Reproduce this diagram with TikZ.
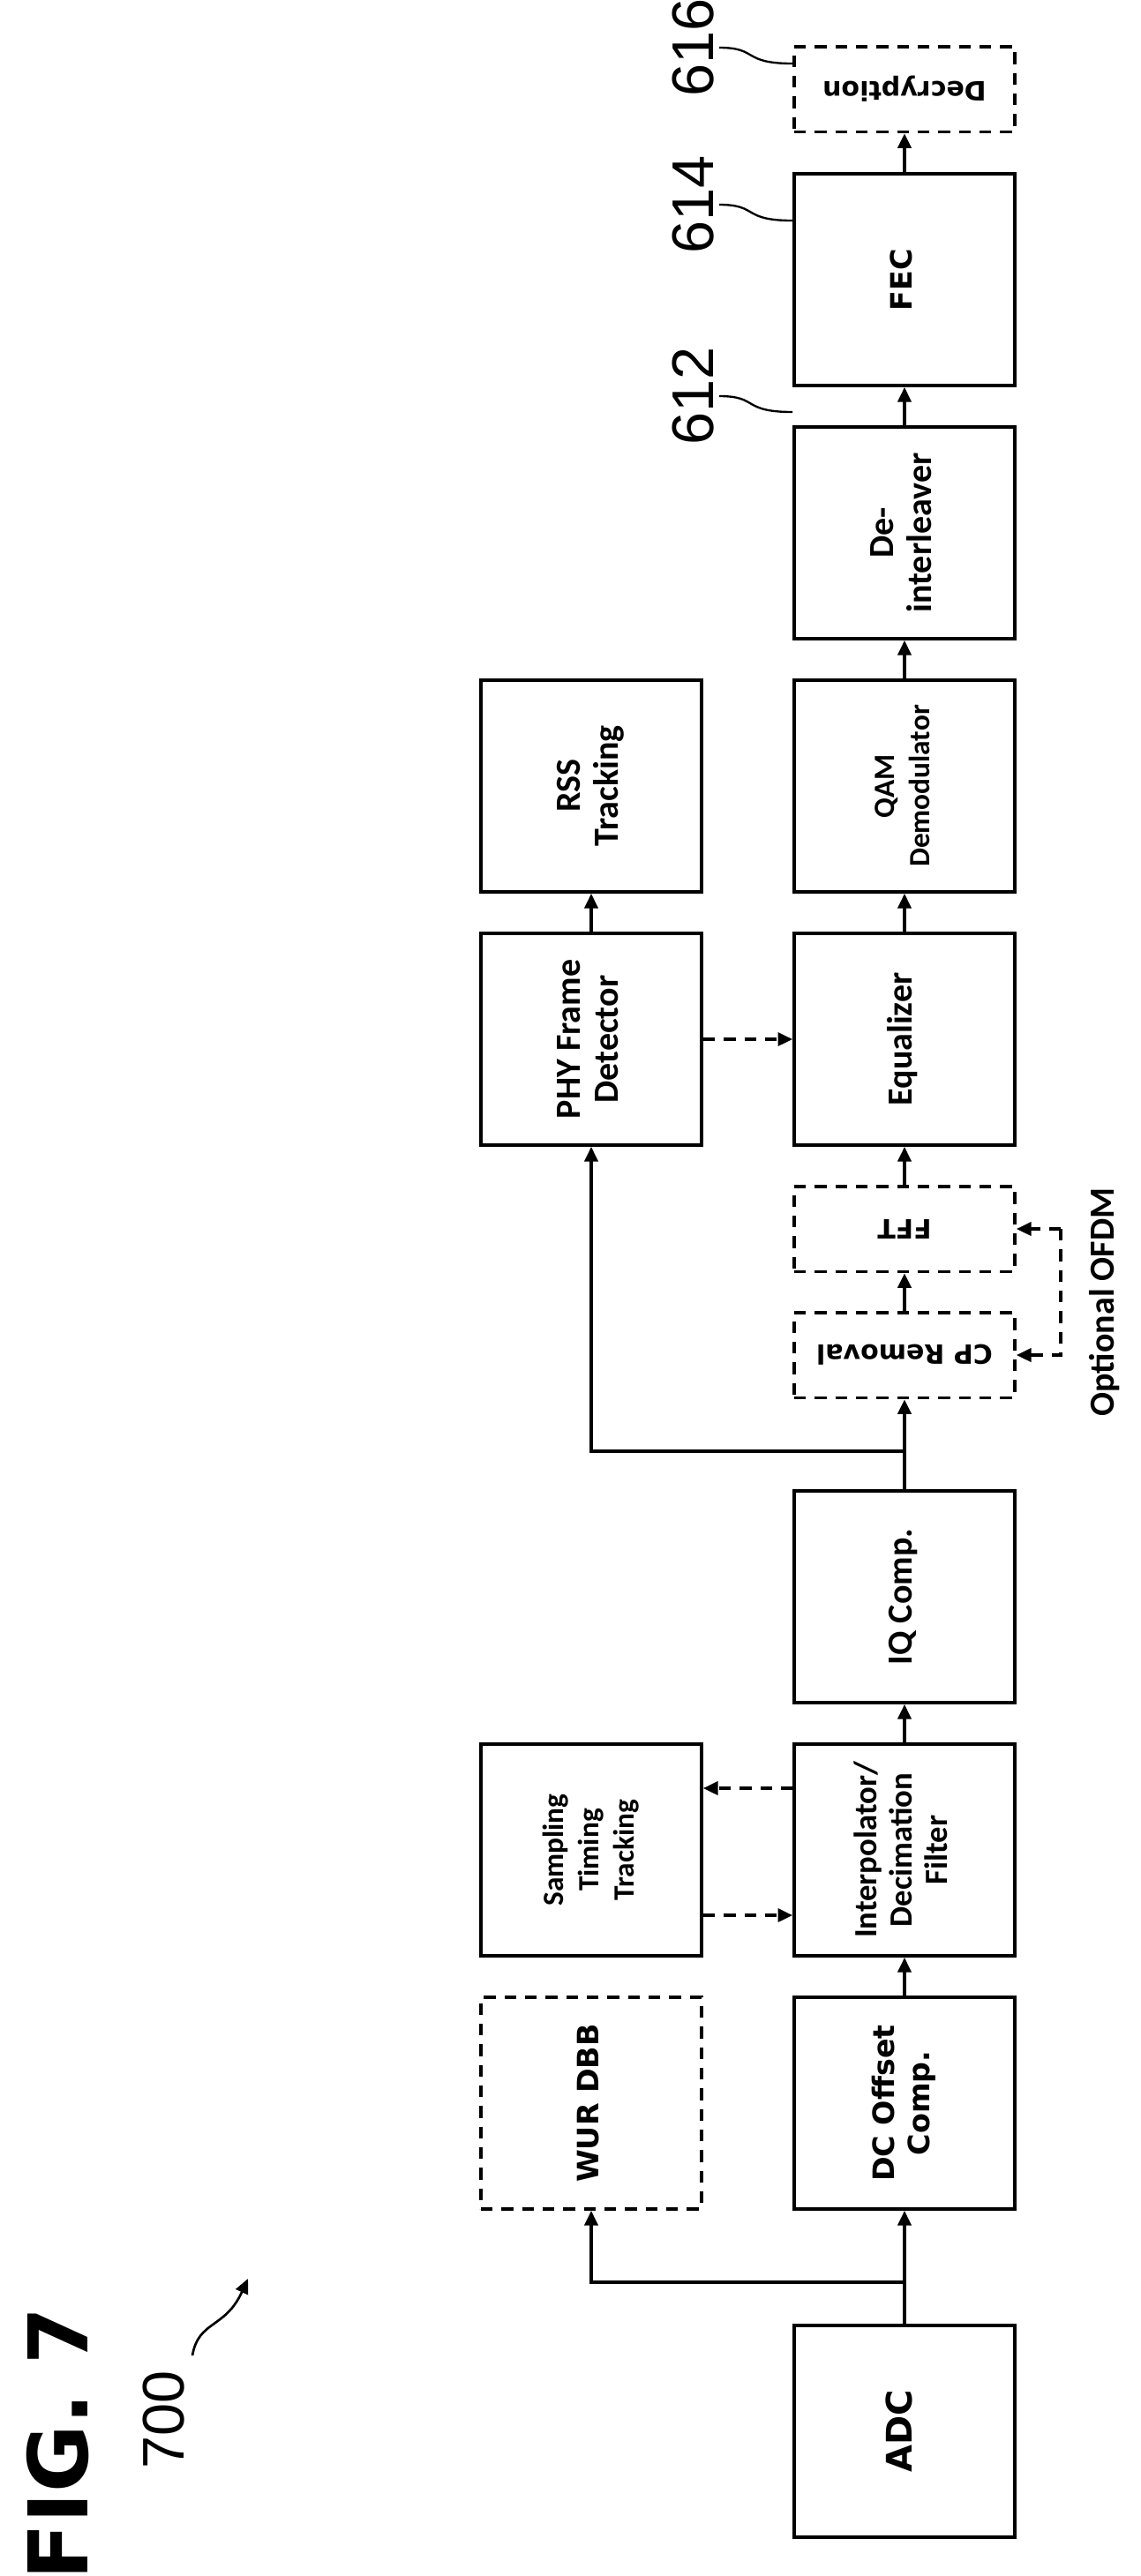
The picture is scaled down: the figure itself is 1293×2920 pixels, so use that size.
\documentclass[tikz,border=0pt]{standalone}
\usepackage{fontspec}
\setmainfont{Carlito}
\newfontfamily\vfont{DejaVu Sans}
\newfontfamily\nfont{Liberation Sans}
\usetikzlibrary{arrows.meta,calc}
\newcommand{\up}[1]{\rotatebox{90}{\begin{tabular}{@{}c@{}}#1\end{tabular}}}
\newcommand{\dn}[1]{\rotatebox{180}{#1}}

\begin{document}
\begin{tikzpicture}[x=0.3pt, y=-0.3pt, line width=1.1pt,
    block/.style={rectangle, draw, minimum width=75pt, minimum height=72pt, inner sep=0pt, font=\bfseries\fontsize{12}{13}\selectfont},
    small/.style={block, minimum height=29pt},
    opt/.style={dashed, dash pattern=on 4pt off 3pt},
    arr/.style={-{Triangle[length=5pt, width=4.5pt]}},
    refnum/.style={font=\nfont\fontsize{20}{20}\selectfont, rotate=90}]

    \useasboundingbox (0,0) rectangle (1293,2920);

    % main chain
    \node[block] (adc) at (1025,2756) {\vfont\up{ADC}};
    \node[block] (dc) at (1025,2384) {\vfont\fontsize{10}{12}\selectfont\up{DC Offset\\Comp.}};
    \node[block] (interp) at (1025,2097) {\fontsize{11}{12}\selectfont\up{Interpolator/\\Decimation\\Filter}};
    \node[block] (iq) at (1025,1810) {\up{IQ Comp.}};
    \node[small, opt] (cp) at (1025,1536) {\vfont\fontsize{9}{10}\selectfont\dn{CP Removal}};
    \node[small, opt] (fft) at (1025,1393) {\vfont\fontsize{9}{10}\selectfont\dn{FFT}};
    \node[block] (eq) at (1025,1178) {\up{Equalizer}};
    \node[block] (qam) at (1025,891) {\fontsize{10}{12}\selectfont\up{QAM\\Demodulator}};
    \node[block] (deint) at (1025,604) {\up{De-\\interleaver}};
    \node[block] (fec) at (1025,317) {\vfont\fontsize{10}{12}\selectfont\up{FEC}};
    \node[small, opt] (dec) at (1025,101) {\vfont\fontsize{9}{10}\selectfont\dn{Decryption}};

    % side blocks
    \node[block, opt] (wur) at (670,2384) {\vfont\fontsize{10}{12}\selectfont\up{WUR DBB}};
    \node[block] (stt) at (670,2097) {\fontsize{10}{12}\selectfont\up{Sampling\\Timing\\Tracking}};
    \node[block] (phy) at (670,1178) {\up{PHY Frame\\Detector}};
    \node[block] (rss) at (670,891) {\up{RSS\\Tracking}};

    \coordinate (br1) at (1025,2587);
    \coordinate (br2) at (1025,1645);

    \draw[arr] (adc.north) -- (dc.south);
    \draw[arr] (br1) -| (wur.south);
    \draw[arr] (dc.north) -- (interp.south);
    \draw[arr, opt] ($(interp.west)+(0,-70)$) -- ($(stt.east)+(0,-70)$);
    \draw[arr, opt] ($(stt.east)+(0,74)$) -- ($(interp.west)+(0,74)$);
    \draw[arr] (interp.north) -- (iq.south);
    \draw[arr] (iq.north) -- (cp.south);
    \draw[arr] (br2) -| (phy.south);
    \draw[arr] (cp.north) -- (fft.south);
    \draw[arr] (fft.north) -- (eq.south);
    \draw[arr, opt] (phy.east) -- (eq.west);
    \draw[arr] (phy.north) -- (rss.south);
    \draw[arr] (eq.north) -- (qam.south);
    \draw[arr] (qam.north) -- (deint.south);
    \draw[arr] (deint.north) -- (fec.south);
    \draw[arr] (fec.north) -- (dec.south);

    % optional OFDM bracket
    \coordinate (ofdm) at ($(fft.east)+(50,0)$);
    \draw[arr, opt] (ofdm) -- (fft.east);
    \draw[arr, opt] (ofdm) -- ($(cp.east)+(50,0)$) -- (cp.east);
    \node[rotate=90, font=\bfseries\fontsize{12}{13}\selectfont] (ofdmlbl) at (1252,1476) {Optional OFDM};

    % reference numerals
    \node[refnum] (n612) at (786,449) {612};
    \node[refnum] (n614) at (786,232) {614};
    \node[refnum] (n616) at (786,54) {616};
    \draw[line width=0.7pt] (815,449) .. controls (860,449) and (840,467) .. (deint.west |- 0,467);
    \draw[line width=0.7pt] (815,232) .. controls (860,232) and (840,250) .. (fec.west |- 0,250);
    \draw[line width=0.7pt] (815,54) .. controls (860,54) and (840,72) .. (dec.west |- 0,72);

    \node[rotate=90, font=\vfont\bfseries\fontsize{28}{28}\selectfont] (fig) at (66,2770) {FIG. 7};
    \node[refnum] (n700) at (186,2743) {700};
    \coordinate (tip700) at (281,2583);
    \draw[arr, line width=0.8pt] (218,2670) .. controls (225,2630) and (255,2640) .. (tip700);
\end{tikzpicture}
\end{document}
